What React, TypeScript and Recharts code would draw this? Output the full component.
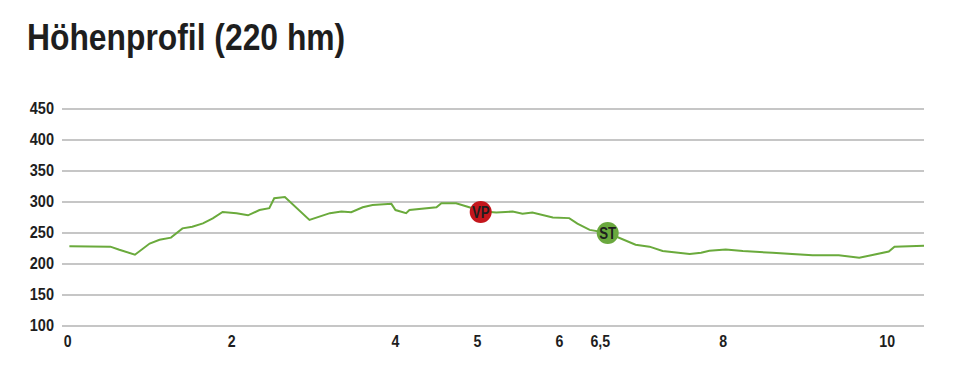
import { CartesianGrid, Line, LineChart, ReferenceDot, XAxis, YAxis } from "recharts";

const FONT = "'Liberation Sans', Arial, sans-serif";
const INK = "#1e1e1e";

const km = [
  0.02, 0.52, 0.63, 0.82, 1.0, 1.12, 1.26, 1.4, 1.52, 1.65, 1.77, 1.89, 2.06, 2.2, 2.34, 2.46, 2.52, 2.65,
  2.95, 3.2, 3.34, 3.46, 3.6, 3.72, 3.95, 4.0, 4.13, 4.17, 4.5, 4.56, 4.74, 4.94, 5.04, 5.23, 5.43, 5.55,
  5.67, 5.92, 6.12, 6.22, 6.37, 6.59, 6.93, 7.1, 7.26, 7.59, 7.73, 7.83, 8.03, 8.24, 8.6, 9.09, 9.41, 9.66,
  9.82, 10.02, 10.09, 10.45,
];
const elevation = [
  228.5, 228, 223, 215, 233, 239, 242.5, 257.5, 260, 265.5, 273.5, 284, 282, 278.5, 287, 290, 306, 308,
  271, 282, 284.5, 283.5, 291.5, 295, 297, 287, 282, 287, 291.5, 298, 298, 290, 285, 283, 284.5, 281,
  283, 275, 274, 265, 255, 250, 231, 228, 221, 216, 218, 221.5, 223.5, 221, 218, 214, 214, 210,
  214.5, 220, 228, 229.5,
];

const xTicks = [0, 2, 4, 5, 6, 6.5, 8, 10];
const yTicks = [100, 150, 200, 250, 300, 350, 400, 450];

const markerLabels = ["VP", "ST"];
const markerKm = [5.04, 6.59];
const markerElev = [284, 250];
const markerColors = ["#c4161c", "#6aa83e"];

const data = km.map((k, i) => ({ km: k, ele: elevation[i] }));

function XTick({ x, y, payload }: any) {
  return (
    <text
      transform={`translate(${x},${y + 21}) scale(0.86,1)`}
      textAnchor="middle"
      fontFamily={FONT}
      fontWeight="bold"
      fontSize={16.5}
      fill={INK}
    >
      {String(payload.value).replace(".", ",")}
    </text>
  );
}

function YTick({ x, y, payload }: any) {
  return (
    <text
      transform={`translate(${x},${y + 5}) scale(0.88,1)`}
      textAnchor="end"
      fontFamily={FONT}
      fontWeight="bold"
      fontSize={16.5}
      fill={INK}
    >
      {payload.value}
    </text>
  );
}

function Marker({ cx, cy, label, color }: { cx?: number; cy?: number; label: string; color: string }) {
  if (cx == null || cy == null) return null;
  return (
    <g>
      <circle cx={cx} cy={cy} r={11} fill={color} />
      <text
        transform={`translate(${cx},${cy + 6}) scale(0.78,1)`}
        textAnchor="middle"
        fontFamily={FONT}
        fontWeight="bold"
        fontSize={17}
        fill={INK}
      >
        {label}
      </text>
    </g>
  );
}

export default function App() {
  return (
    <div style={{ position: "absolute", left: 0, top: 0, width: 956, height: 365, background: "#fff" }}>
      <div
        style={{
          position: "absolute",
          left: 27,
          top: 19,
          fontFamily: FONT,
          fontWeight: "bold",
          fontSize: 37,
          lineHeight: 1,
          color: INK,
          whiteSpace: "nowrap",
          transform: "scaleX(0.86)",
          transformOrigin: "left top",
        }}
      >
        Höhenprofil (220 hm)
      </div>
      <LineChart width={956} height={365} data={data} margin={{ top: 109, right: 32, left: 12, bottom: 0 }}>
        <CartesianGrid vertical={false} stroke="#b3b3b3" strokeWidth={1.3} />
        <XAxis
          dataKey="km"
          type="number"
          domain={[-0.07, 10.45]}
          ticks={xTicks}
          axisLine={false}
          tickLine={false}
          tickSize={0}
          tickMargin={0}
          height={39}
          tick={<XTick />}
          interval={0}
        />
        <YAxis
          type="number"
          domain={[100, 450]}
          ticks={yTicks}
          axisLine={false}
          tickLine={false}
          tickSize={0}
          tickMargin={8}
          width={50}
          tick={<YTick />}
          interval={0}
        />
        <Line
          type="linear"
          dataKey="ele"
          stroke="#6aaa3c"
          strokeWidth={2}
          dot={false}
          activeDot={false}
          isAnimationActive={false}
        />
        {markerLabels.map((lab, i) => (
          <ReferenceDot
            key={lab}
            x={markerKm[i]}
            y={markerElev[i]}
            r={11}
            shape={(p: any) => <Marker cx={p.cx} cy={p.cy} label={lab} color={markerColors[i]} />}
          />
        ))}
      </LineChart>
    </div>
  );
}
